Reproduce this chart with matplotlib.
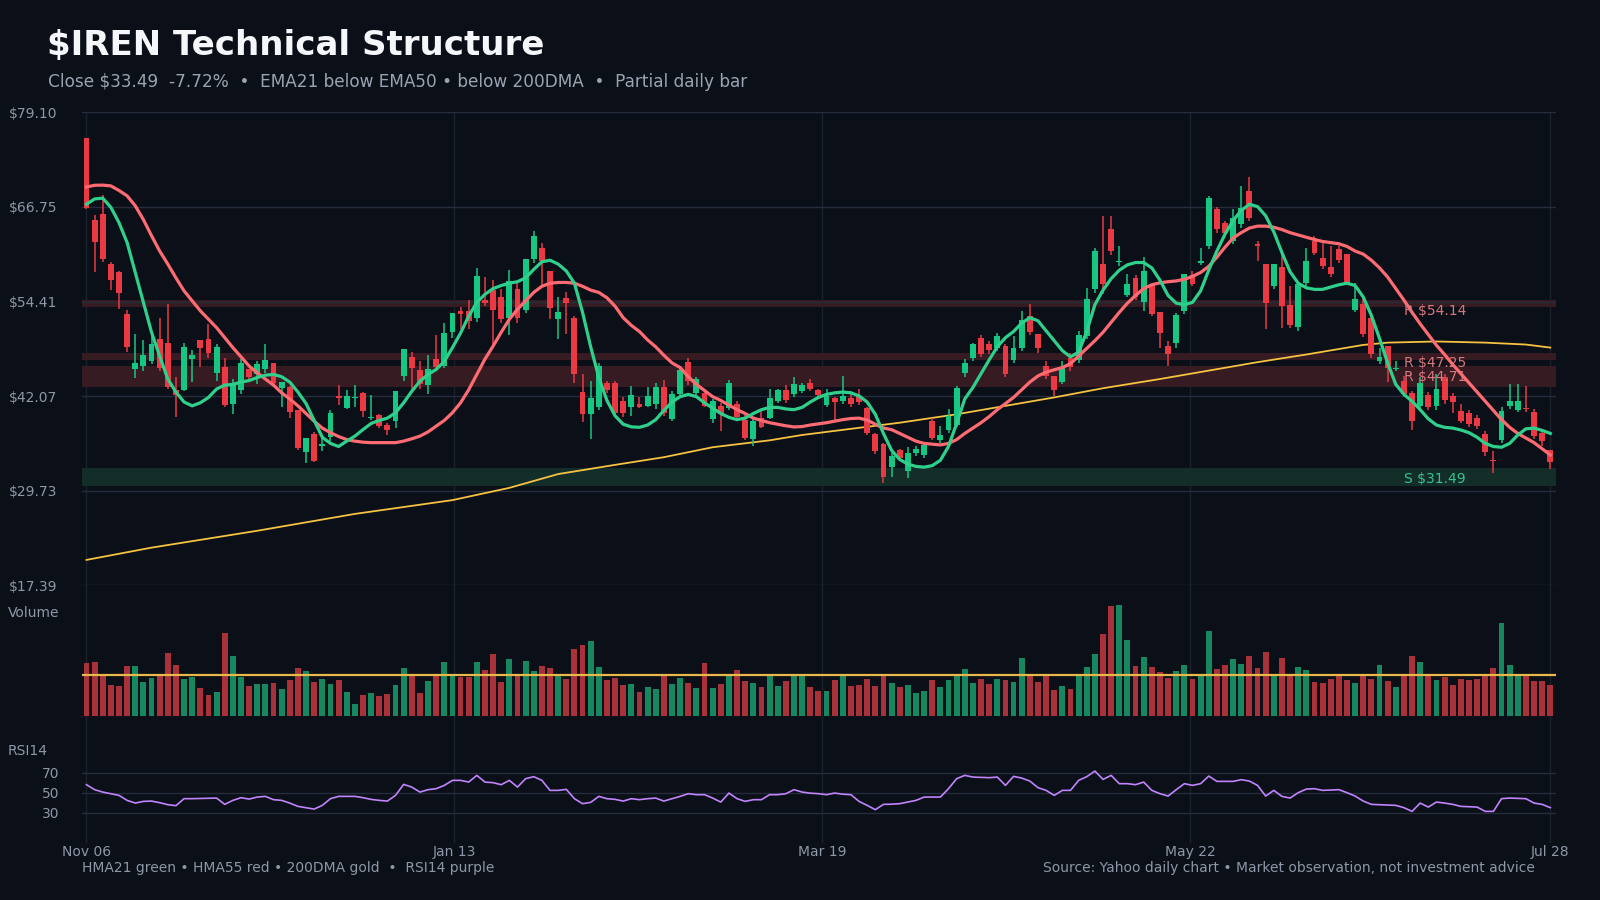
import numpy as np
import matplotlib.pyplot as plt

# ---- data (181 daily bars) ----
dates = ["Nov 06", "Jan 13", "Mar 19", "May 22", "Jul 28"]

opens = [75.76, 65.05, 65.84, 59.31, 58.26, 52.78, 45.55, 46.0, 46.64, 49.47,
         48.95, 42.87, 42.87, 46.93, 49.38, 49.5, 45.12, 45.86, 41.07, 42.87,
         45.64, 44.9, 45.64, 46.33, 43.16, 43.25, 40.24, 34.76, 37.1, 35.6,
         36.78, 42.07, 40.55, 41.8, 42.46, 39.2, 39.59, 38.28, 38.8, 44.68,
         47.16, 45.46, 43.5, 46.85, 45.98, 50.47, 53.17, 53.17, 52.3, 54.6,
         55.91, 55.04, 52.3, 56.09, 53.3, 60.0, 61.4, 58.4, 52.17, 54.9,
         52.3, 42.6, 39.8, 40.67, 43.84, 43.84, 41.45, 40.67, 41.1, 40.8,
         41.0, 43.2, 39.06, 42.32, 46.58, 42.54, 42.54, 39.06, 40.8, 40.58,
         41.0, 38.9, 36.45, 39.28, 39.28, 41.45, 42.9, 42.3, 42.8, 43.84,
         42.84, 40.93, 41.8, 41.37, 41.88, 42.1, 40.58, 37.1, 35.8, 32.85,
         35.02, 32.24, 34.6, 34.4, 38.76, 36.32, 37.63, 38.32, 45.15, 47.1,
         49.7, 48.9, 48.4, 48.6, 46.75, 48.4, 52.53, 50.23, 46.0, 44.7,
         43.97, 47.0, 46.8, 49.93, 56.0, 59.27, 63.84, 59.6, 55.28, 57.54,
         54.4, 56.75, 53.1, 48.6, 49.06, 53.19, 57.9, 59.5, 61.67, 66.45,
         64.7, 62.3, 64.5, 68.84, 61.97, 59.27, 56.45, 58.93, 53.97, 51.1,
         56.88, 62.3, 60.14, 58.93, 61.23, 60.6, 53.28, 54.06, 52.32, 46.6,
         48.63, 45.6, 44.06, 42.54, 40.8, 42.23, 40.8, 44.5, 42.1, 40.15,
         39.93, 39.2, 37.1, 33.7, 36.32, 40.8, 40.24, 40.5, 40.06, 37.2,
         35.02]
highs = [75.8, 65.66, 68.27, 59.57, 58.39, 53.3, 50.13, 49.4, 49.9, 52.26,
         54.08, 44.5, 48.95, 48.08, 49.38, 51.47, 48.82, 47.07, 44.25, 46.85,
         45.64, 46.64, 48.82, 46.33, 43.9, 43.38, 40.3, 36.6, 37.37, 37.0,
         40.3, 43.46, 42.85, 43.46, 42.6, 42.2, 39.8, 38.6, 42.72, 48.16,
         47.8, 46.64, 47.5, 49.99, 51.56, 52.87, 53.69, 54.6, 58.78, 57.65,
         57.22, 56.09, 58.48, 56.78, 60.0, 63.62, 62.1, 58.4, 55.04, 55.65,
         52.52, 44.98, 44.06, 46.45, 44.06, 44.06, 41.9, 43.4, 41.9, 43.2,
         43.84, 44.15, 42.76, 45.6, 47.1, 44.5, 42.76, 41.67, 41.2, 44.15,
         41.4, 39.8, 39.2, 40.4, 42.97, 43.0, 43.5, 44.5, 43.8, 44.28,
         43.0, 42.97, 41.9, 44.7, 42.7, 43.0, 40.67, 37.3, 36.0, 34.7,
         35.15, 35.37, 35.5, 36.0, 39.28, 38.2, 40.4, 43.4, 46.9, 49.06,
         50.1, 49.3, 50.3, 48.9, 49.9, 53.2, 54.06, 50.23, 46.6, 44.7,
         46.6, 47.7, 50.6, 56.15, 61.45, 65.6, 65.58, 61.7, 57.97, 57.9,
         60.2, 56.75, 53.1, 49.28, 52.97, 58.06, 58.4, 61.45, 68.2, 66.75,
         64.9, 66.45, 69.5, 70.66, 62.3, 59.27, 59.27, 60.8, 56.45, 56.9,
         61.45, 62.97, 62.2, 61.67, 61.67, 60.67, 56.88, 54.71, 52.75, 48.4,
         48.63, 46.67, 44.7, 42.76, 44.5, 42.6, 44.9, 44.9, 42.5, 41.0,
         40.3, 39.6, 37.5, 34.9, 40.6, 43.7, 43.63, 43.4, 40.4, 37.6,
         35.02]
lows = [66.5, 58.3, 59.6, 55.9, 53.47, 47.8, 44.46, 45.34, 46.3, 45.34,
        42.95, 39.37, 42.74, 43.9, 45.9, 47.07, 44.03, 40.68, 39.8, 42.3,
        44.16, 43.6, 45.12, 43.46, 40.68, 39.24, 35.1, 33.4, 33.45, 34.9,
        36.0, 40.9, 40.4, 40.68, 39.37, 39.0, 37.9, 36.98, 37.93, 44.0,
        43.03, 43.03, 42.4, 45.77, 45.77, 49.69, 50.77, 50.77, 51.73, 53.8,
        48.8, 51.56, 49.99, 51.64, 52.87, 59.48, 56.52, 52.17, 49.56, 50.12,
        43.81, 38.67, 36.45, 40.2, 42.5, 39.7, 39.3, 39.5, 40.5, 40.6,
        40.4, 39.5, 38.8, 42.0, 43.5, 42.2, 40.6, 38.5, 37.5, 40.3,
        38.9, 36.3, 35.6, 37.97, 39.06, 41.2, 41.2, 42.0, 42.5, 42.76,
        41.9, 40.6, 38.85, 41.0, 40.7, 40.9, 37.0, 34.5, 30.67, 31.54,
        33.6, 31.37, 34.2, 34.0, 36.3, 36.0, 37.3, 38.0, 44.6, 46.7,
        47.2, 47.6, 48.0, 44.6, 46.4, 48.0, 50.0, 47.76, 44.3, 42.1,
        43.6, 45.4, 46.4, 49.5, 55.5, 55.36, 60.5, 59.0, 55.0, 54.6,
        53.2, 52.5, 48.4, 46.0, 48.4, 52.8, 56.4, 59.2, 61.3, 63.4,
        63.0, 61.9, 64.0, 64.9, 59.7, 50.8, 56.0, 51.0, 51.0, 50.58,
        56.0, 60.5, 58.7, 57.6, 59.4, 56.75, 53.0, 49.8, 47.1, 46.3,
        43.85, 45.3, 41.9, 37.63, 40.3, 40.2, 40.3, 41.0, 39.9, 38.5,
        38.0, 37.8, 34.2, 32.1, 35.9, 40.4, 40.0, 40.0, 36.5, 35.6,
        32.55]
closes = [66.6, 62.22, 60.0, 57.26, 55.56, 48.51, 46.33, 47.43, 48.82, 45.77,
          43.29, 42.17, 48.47, 47.43, 48.39, 47.73, 48.47, 40.94, 43.81, 46.33,
          44.6, 46.2, 46.77, 43.81, 43.9, 39.98, 35.3, 36.6, 33.58, 35.8,
          39.87, 41.85, 42.07, 41.9, 40.11, 39.3, 38.15, 37.67, 42.72, 48.16,
          45.77, 43.6, 45.55, 45.9, 50.25, 52.87, 52.82, 51.86, 57.74, 54.17,
          53.3, 52.17, 57.09, 52.3, 60.0, 62.96, 59.7, 53.6, 53.04, 54.26,
          44.9, 39.7, 41.8, 46.0, 42.84, 39.93, 39.93, 42.2, 40.67, 42.1,
          43.3, 39.93, 42.3, 45.45, 44.06, 44.28, 40.8, 41.37, 39.71, 43.84,
          39.3, 36.67, 38.85, 38.06, 41.88, 42.84, 41.6, 43.6, 43.5, 42.97,
          42.23, 42.1, 41.24, 42.1, 41.0, 41.24, 37.3, 34.93, 31.54, 34.28,
          34.06, 34.71, 35.15, 35.72, 36.67, 37.02, 39.5, 43.1, 46.45, 48.84,
          47.6, 48.06, 49.9, 45.0, 48.4, 51.97, 50.5, 48.32, 44.7, 42.84,
          45.8, 45.9, 50.0, 54.71, 61.0, 56.75, 61.0, 59.7, 56.67, 55.0,
          58.4, 52.84, 50.37, 47.63, 52.67, 57.97, 56.75, 59.6, 67.88, 63.84,
          63.4, 65.36, 66.66, 65.36, 61.67, 54.28, 59.27, 53.84, 51.36, 56.75,
          59.7, 60.8, 59.06, 57.97, 59.8, 56.88, 54.71, 50.23, 47.54, 47.2,
          45.8, 45.8, 42.3, 38.76, 43.84, 40.67, 42.97, 41.54, 41.24, 38.85,
          38.41, 38.2, 34.72, 33.63, 40.15, 41.37, 41.37, 40.37, 36.9, 36.15,
          33.49]

# volume, millions of shares
volume = [53, 54, 40, 31, 30, 50, 50, 34, 38, 42, 63, 51, 37, 39, 28, 21, 24, 83, 60, 39,
          30, 32, 32, 33, 27, 36, 48, 45, 34, 37, 32, 36, 24, 12, 21, 23, 20, 22, 31, 48,
          40, 23, 35, 42, 54, 42, 39, 39, 54, 46, 62, 34, 57, 42, 55, 45, 50, 48, 42, 37,
          67, 71, 75, 49, 36, 38, 31, 32, 24, 29, 27, 42, 32, 38, 33, 28, 53, 28, 32, 40,
          46, 35, 33, 29, 40, 30, 35, 42, 42, 29, 25, 25, 36, 42, 30, 31, 37, 30, 42, 33,
          29, 31, 23, 25, 36, 29, 36, 40, 47, 33, 37, 32, 37, 36, 34, 58, 42, 34, 42, 26,
          30, 27, 42, 49, 62, 82, 110, 111, 76, 50, 59, 49, 44, 38, 45, 51, 37, 42, 85, 47,
          51, 57, 52, 60, 48, 64, 42, 58, 42, 49, 46, 34, 33, 37, 40, 36, 33, 40, 37, 51,
          35, 29, 42, 60, 54, 42, 36, 39, 31, 37, 36, 37, 42, 48, 93, 51, 42, 42, 35, 35,
          31]

hma21 = [67.1, 67.8, 67.9, 66.7, 64.7, 62.1, 58.2, 54.3, 50.4, 47.3,
         44.3, 42.6, 41.3, 40.8, 41.2, 41.9, 43.0, 43.5, 43.6, 43.9,
         44.1, 44.5, 44.8, 44.9, 44.6, 43.9, 42.6, 41.1, 38.9, 36.7,
         35.9, 35.5, 36.2, 36.85, 37.7, 38.5, 38.9, 39.2, 39.9, 41.2,
         42.7, 44.0, 44.9, 45.55, 46.6, 48.4, 50.3, 52.5, 54.3, 55.35,
         56.1, 56.5, 56.8, 57.0, 57.5, 58.6, 59.6, 59.8, 59.3, 58.4,
         56.8, 53.0, 48.5, 44.5, 41.5, 39.5, 38.4, 38.06, 38.0, 38.3,
         39.0, 40.2, 41.3, 42.0, 42.3, 42.0, 41.2, 40.5, 39.8, 39.3,
         39.0, 39.2, 39.8, 40.3, 40.6, 40.6, 40.4, 40.3, 40.6, 41.3,
         41.9, 42.3, 42.5, 42.6, 42.5, 42.1, 41.3, 39.7, 37.2, 35.0,
         33.8, 33.2, 32.9, 32.8, 33.0, 33.7, 35.5, 38.5, 41.7, 43.2,
         45.0, 46.8, 48.5, 49.7, 50.5, 51.6, 52.3, 51.9, 50.6, 49.3,
         48.0, 47.2, 47.8, 50.5, 54.0, 55.9, 57.4, 58.5, 59.2, 59.5,
         59.5, 58.8, 57.2, 55.2, 54.2, 54.0, 54.3, 55.8, 58.5, 61.0,
         63.2, 65.0, 66.3, 67.1, 66.8, 65.6, 63.5, 60.8, 58.3, 56.8,
         56.2, 56.0, 56.0, 56.3, 56.6, 56.8, 56.5, 55.0, 52.6, 49.6,
         46.4, 43.6, 42.3, 41.4, 40.3, 39.1, 38.3, 38.0, 37.9, 37.65,
         37.3, 36.7, 35.9, 35.5, 35.4, 35.9, 37.0, 37.8, 37.9, 37.6,
         37.2]
hma55 = [69.36, 69.58, 69.6, 69.5, 68.9, 68.2, 66.9, 65.1, 63.0, 61.0,
         59.3, 57.5, 55.8, 54.5, 53.2, 52.1, 51.0, 49.7, 48.4, 47.2,
         46.0, 45.1, 44.3, 43.5, 42.5, 41.7, 40.8, 39.8, 38.8, 37.9,
         37.3, 36.8, 36.4, 36.2, 36.06, 36.0, 36.0, 36.0, 36.0, 36.2,
         36.5, 36.85, 37.4, 38.15, 38.9, 39.9, 41.2, 42.9, 44.9, 46.9,
         48.6, 50.4, 52.1, 53.4, 54.5, 55.6, 56.4, 56.8, 56.9, 56.9,
         56.8, 56.4, 55.9, 55.6, 54.9, 53.8, 52.3, 51.3, 50.5, 49.4,
         48.5, 47.4, 46.4, 45.8, 44.6, 43.6, 42.8, 42.0, 41.5, 40.9,
         40.3, 39.8, 39.2, 38.9, 38.6, 38.4, 38.2, 38.05, 38.1, 38.3,
         38.45, 38.6, 38.8, 39.0, 39.15, 39.2, 38.95, 38.4, 37.9, 37.7,
         37.2, 36.7, 36.2, 35.9, 35.8, 35.7, 35.9, 36.4, 37.2, 37.9,
         38.6, 39.4, 40.3, 41.1, 41.9, 42.9, 43.9, 44.7, 45.2, 45.5,
         45.8, 46.3, 47.3, 48.3, 49.3, 50.4, 51.7, 53.0, 54.2, 55.2,
         56.1, 56.6, 56.85, 57.0, 57.1, 57.3, 57.7, 58.2, 59.0, 60.2,
         61.5, 62.7, 63.4, 64.0, 64.25, 64.25, 64.1, 63.8, 63.4, 63.1,
         62.8, 62.5, 62.25, 62.1, 61.95, 61.6, 61.0, 60.6, 59.8, 58.8,
         57.6, 56.1, 54.6, 53.0, 51.5, 50.1, 48.7, 47.5, 46.2, 45.0,
         43.8, 42.6, 41.4, 40.2, 39.0, 38.0, 37.2, 36.6, 36.0, 35.2,
         34.4]

# 200DMA read at a handful of bars
dma_idx = [0, 8, 21, 33, 45, 52, 58, 65, 71, 77, 84, 88, 94, 100, 107, 113,
           119, 125, 132, 138, 144, 150, 157, 160, 166, 172, 177, 180]
dma200 = [20.7, 22.3, 24.5, 26.7, 28.5, 30.1, 31.9, 33.1, 34.1, 35.4, 36.3, 37.0,
          37.8, 38.6, 39.7, 40.8, 41.9, 43.1, 44.3, 45.4, 46.5, 47.5, 48.75, 49.05,
          49.2, 49.05, 48.8, 48.4]

rsi14 = [58, 53, 50.6, 49, 47.3, 42.3, 39.6, 41.3, 41.6, 40,
         38, 37, 44, 44, 44.2, 44.4, 44.6, 38.3, 42.3, 45,
         43.6, 45.6, 46.3, 43, 42.3, 39.6, 36.3, 35, 33.6, 37.3,
         44, 46.3, 46.3, 46.3, 45, 43.3, 42.3, 41.6, 47.3, 58.3,
         55.6, 50.6, 53, 54, 57.3, 62.3, 62.3, 60.6, 67.3, 60.6,
         60, 58, 62.3, 55.6, 64, 66, 62.3, 52.3, 52.3, 53.3,
         44, 39, 40.3, 46.3, 44, 43.3, 41.6, 44, 43, 44,
         44.6, 41.6, 44, 46.3, 49, 48, 48, 44.6, 40.6, 49.6,
         44, 41.3, 43, 43, 48, 48, 49, 53, 50.6, 49.5,
         49, 48, 49.6, 48.5, 48, 41.3, 37.3, 33, 38.3, 38.5,
         39, 40.6, 42.3, 45.6, 45.6, 45.6, 54, 64, 67.3, 65.6,
         65.3, 65, 65.6, 57.3, 66.3, 64.6, 61.6, 55, 52.3, 47.3,
         52.3, 52.3, 62.3, 66, 71.6, 63.3, 67.3, 59, 59, 58,
         60.6, 52.3, 49, 46.6, 53, 59, 57.3, 59, 66.6, 61.3,
         61.3, 61.3, 63, 61.6, 57.3, 46.6, 52.3, 46.3, 44.6, 50,
         53.6, 54, 52.3, 52.6, 53, 50, 46.6, 41.6, 38.3, 38,
         37.8, 37.3, 35, 31.3, 39.6, 35.6, 40.6, 39.6, 38.3, 36.3,
         36, 35.6, 31.3, 31.3, 44, 44.6, 44.3, 44, 39.6, 38.3,
         35]

# support / resistance zones
levels = [54.14, 47.25, 44.71, 31.49]
level_kind = ["R", "R", "R", "S"]
zone_lo = [53.66, 46.72, 43.20, 30.28]
zone_hi = [54.62, 47.75, 46.06, 32.68]
price_ticks = [17.39, 29.73, 42.07, 54.41, 66.75, 79.10]

# ---- style ----
bg = "#0b0f17"
grid_h = "#252c3b"
grid_v = "#1b212d"
txt = "#8e97a7"
up, down = "#16c784", "#ea3943"
vol_up, vol_down = "#17875f", "#a8313a"

o = np.array(opens); h = np.array(highs); l = np.array(lows); c = np.array(closes)
n = len(c)
x = np.arange(n)
is_up = c >= o
xt = np.linspace(0, n, 5)
xt[-1] = n - 1
xlim = (-0.55, n - 0.3)

fig = plt.figure(figsize=(16, 9), dpi=100, facecolor=bg)

# vertical grid running through all three panels
gax = fig.add_axes([0.05125, 0.0637, 0.92125, 0.8115])
gax.set_facecolor(bg)
gax.set_xlim(*xlim)
gax.set_ylim(0, 1)
for t in xt:
    gax.axvline(t, color=grid_v, lw=1)
gax.axis("off")

# ---- price panel ----
ax = fig.add_axes([0.05125, 0.3497, 0.92125, 0.5255])
ax.set_facecolor("none")
ax.set_xlim(*xlim)
ax.set_ylim(price_ticks[0], price_ticks[-1])
for v in price_ticks:
    ax.axhline(v, color=grid_h, lw=1, zorder=1)

label_dy = [-5, -5, -1, -1.5]
for lv, k, lo, hi, dy in zip(levels, level_kind, zone_lo, zone_hi, label_dy):
    fc = "#361c22" if k == "R" else "#132e29"
    ax.axhspan(lo, hi, color=fc, lw=0, zorder=0.5)
    tc = "#d9767e" if k == "R" else "#34c58c"
    ax.annotate(f"{k} ${lv:.2f}", (n - 19, lv), xytext=(0, dy), textcoords="offset points",
                color=tc, fontsize=10, va="center", ha="left", zorder=6)

ax.plot(dma_idx, dma200, color="#f5c242", lw=1.3, zorder=3)

cols = np.where(is_up, up, down)
ax.vlines(x, l, h, colors=cols, lw=1.1, zorder=4)
body = np.maximum(np.abs(c - o), 0.15)
ax.bar(x, body, bottom=np.minimum(o, c), width=0.72, color=cols, lw=0, zorder=4)

ax.plot(x, hma55, color="#ff6b72", lw=2.3, zorder=5)
ax.plot(x, hma21, color="#2fd08c", lw=2.3, zorder=5)

ax.set_yticks(price_ticks, [f"${v:.2f}" for v in price_ticks])
ax.set_xticks([])
ax.tick_params(axis="y", length=0, pad=18, colors=txt, labelsize=10)
for s in ax.spines.values():
    s.set_visible(False)

# ---- volume panel ----
vax = fig.add_axes([0.05125, 0.2044, 0.92125, 0.1453])
vax.set_facecolor("none")
vax.set_xlim(*xlim)
vol = np.array(volume)
vax.set_ylim(0, vol.max() * 1.18)
vax.bar(x, vol, width=0.72, color=np.where(is_up, vol_up, vol_down), lw=0)
vax.axhline(vol.mean(), color="#e8b84a", lw=1.6)
vax.axis("off")

# ---- RSI panel ----
rax = fig.add_axes([0.05125, 0.0637, 0.92125, 0.1111])
rax.set_facecolor("none")
rax.set_xlim(*xlim)
rax.set_ylim(0, 100)
for v in (30, 50, 70):
    rax.axhline(v, color=grid_h, lw=1)
rax.plot(x, rsi14, color="#c084fc", lw=1.2)
rax.set_yticks([30, 50, 70])
rax.set_xticks(xt, dates)
rax.tick_params(axis="y", length=0, pad=16, colors=txt, labelsize=10)
rax.tick_params(axis="x", length=0, pad=2, colors=txt, labelsize=10)
for s in rax.spines.values():
    s.set_visible(False)

# ---- text ----
fig.text(47 / 1600, 1 - 45 / 900, "$IREN Technical Structure", color="#f5f7fa",
         fontsize=24.5, fontweight="bold", va="center")
fig.text(48 / 1600, 1 - 82 / 900,
         "Close $33.49  -7.72%  \u2022  EMA21 below EMA50 \u2022 below 200DMA  \u2022  Partial daily bar",
         color="#9ba3b2", fontsize=12.2, va="center")
fig.text(8 / 1600, 1 - 613 / 900, "Volume", color=txt, fontsize=10, va="center")
fig.text(8 / 1600, 1 - 751 / 900, "RSI14", color=txt, fontsize=10, va="center")
fig.text(82 / 1600, 1 - 868 / 900,
         "HMA21 green \u2022 HMA55 red \u2022 200DMA gold  \u2022  RSI14 purple",
         color=txt, fontsize=10, va="center")
fig.text(1535 / 1600, 1 - 868 / 900,
         "Source: Yahoo daily chart \u2022 Market observation, not investment advice",
         color=txt, fontsize=10, va="center", ha="right")

fig.savefig("out.png", dpi=100, facecolor=bg)
